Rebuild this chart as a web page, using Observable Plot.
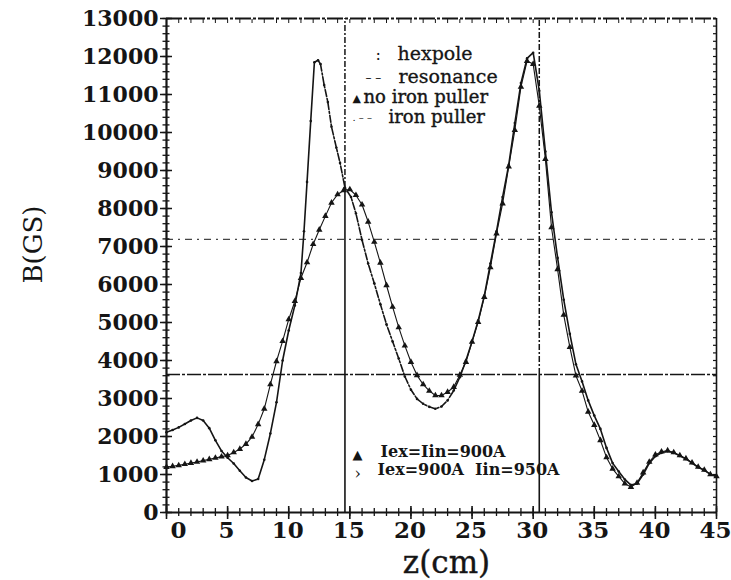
<!DOCTYPE html>
<html><head><meta charset="utf-8">
<script src="https://cdn.jsdelivr.net/npm/d3@7"></script>
<script src="https://cdn.jsdelivr.net/npm/@observablehq/plot@0.6"></script>
<style>body{margin:0;background:#fff}</style>
</head><body><div id="chart"></div>
<script>
// Series A: Iex=Iin=900A (triangles)
const zA = [0,0.5,1,1.5,2,2.5,3,3.5,4,4.5,5,5.5,6,6.5,7,7.5,8,8.5,9,9.5,10,10.5,11,11.5,12,12.5,13,13.5,14,14.5,15,15.5,16,16.5,17,17.5,18,18.5,19,19.5,20,20.5,21,21.5,22,22.5,23,23.5,24,24.5,25,25.5,26,26.5,27,27.5,28,28.5,29,29.5,30,30.5,31,31.5,32,32.5,33,33.5,34,34.5,35,35.5,36,36.5,37,37.5,38,38.5,39,39.5,40,40.5,41,41.5,42,42.5,43,43.5,44,44.5,45];
const bA = [1195,1215,1240,1270,1300,1330,1365,1400,1435,1470,1500,1580,1670,1800,1990,2320,2730,3370,3980,4510,5080,5560,6170,6580,7060,7440,7800,8150,8370,8480,8500,8350,8100,7650,7120,6570,5980,5410,4870,4390,3960,3610,3370,3200,3080,3080,3170,3300,3620,3960,4490,5010,5670,6450,7340,8130,9100,10060,11200,11880,11800,10700,9300,7500,6400,5200,4350,3600,3200,2650,2300,1900,1450,1150,950,760,670,780,1050,1330,1520,1600,1630,1580,1500,1420,1310,1200,1120,1000,950];
// Series B: Iex=900A Iin=950A (line)
const zB = [0,0.5,1,1.5,2,2.5,3,3.5,4,4.5,5,5.5,6,6.5,7,7.5,8,8.5,9,9.5,10,10.5,11,11.25,11.5,11.8,12.1,12.4,12.6,12.9,13.2,13.5,13.9,14.2,14.6,15.1,15.5,16,16.5,17,17.5,18,18.5,19,19.5,20,20.5,21,21.5,22,22.5,23,23.5,24,24.5,25,25.5,26,26.5,27,27.5,28,28.5,29,29.5,30,30.5,31,31.5,32,32.5,33,33.5,34,34.5,35,35.5,36,36.5,37,37.5,38,38.5,39,39.5,40,40.5,41,41.5,42,42.5,43,43.5,44,44.5,45];
const bB = [2110,2170,2240,2330,2420,2490,2420,2220,1900,1620,1440,1290,1100,920,830,880,1390,2080,2900,4000,4790,5450,6300,7400,8700,10300,11850,11900,11800,11250,10800,10150,9600,9200,8550,8300,7870,7170,6550,6030,5480,4950,4500,4050,3580,3230,2990,2860,2780,2730,2790,2950,3210,3560,4000,4500,5050,5700,6550,7400,8300,9150,10250,11300,11950,12100,11100,9500,7900,6700,5600,4700,3900,3450,2950,2550,2200,1700,1300,1080,870,720,760,1000,1300,1480,1570,1610,1570,1490,1410,1300,1190,1110,1010,940];
const hexpoleZ = [14.6, 30.5];
const hexpoleSolidTop = [8550, 3630];
const resonanceB = [3630, 7190];
const yMajorTicks = d3.range(0, 13001, 1000);
const yMinorTicks = d3.range(0, 13001, 200);
const xMajorTicks = d3.range(0, 46, 5);
const xMinorTicks = d3.range(0, 46, 1);
const xLabelTicks = d3.range(5, 46, 5);
const xFirstLabel = [0];
const xLabel = "z(cm)";
const yLabel = "B(GS)";
const legendTop = ["hexpole", "resonance", "no iron puller", "iron puller"];
const legendBottom = ["Iex=Iin=900A", "Iex=900A\u00a0\u00a0Iin=950A"];

const A = zA.map((z, i) => ({z, b: bA[i]}));
const B = zB.map((z, i) => ({z, b: bB[i]}));
const hexDashed = hexpoleZ.map((z, i) => ({z, b1: hexpoleSolidTop[i], b2: 13000}));
const hexSolid = hexpoleZ.map((z, i) => ({z, b1: 0, b2: hexpoleSolidTop[i]}));
const ink = "#151515";
const serif = "DejaVu Serif";

const txt = (s, o) => Plot.text([s], {frameAnchor: "top-left", textAnchor: "start", lineAnchor: "middle", fill: ink, fontFamily: serif, ...o});

const chart = Plot.plot({
  width: 731, height: 580,
  marginLeft: 166, marginRight: 15, marginTop: 18, marginBottom: 68,
  style: {background: "#fff", fontFamily: serif, color: ink},
  x: {domain: [0, 45]},
  y: {domain: [0, 13000]},
  marks: [
    // resonance lines
    Plot.ruleY([resonanceB[1]], {stroke: ink, strokeWidth: 1.2, strokeDasharray: "7,5,2,5", strokeOpacity: 0.8}),
    Plot.ruleY([resonanceB[0]], {stroke: ink, strokeWidth: 1.5, strokeDasharray: "14,2,3,2"}),
    // hexpole lines
    Plot.ruleX(hexDashed, {x: "z", y1: "b1", y2: "b2", stroke: ink, strokeWidth: 1.5, strokeDasharray: "6,2,2,2"}),
    Plot.ruleX(hexSolid, {x: "z", y1: "b1", y2: "b2", stroke: ink, strokeWidth: 1.6}),
    // frame
    Plot.ruleX([0], {stroke: ink, strokeWidth: 2.2}),
    Plot.ruleY([0], {stroke: ink, strokeWidth: 2.2}),
    Plot.ruleX([45], {stroke: ink, strokeWidth: 1.6}),
    Plot.ruleY([13000], {stroke: ink, strokeWidth: 1.8, strokeDasharray: "16,2,3,2"}),
    // ticks
    Plot.axisY(yMinorTicks, {anchor: "left", tickSize: 7, dx: 3.5, tickFormat: () => "", stroke: ink, strokeWidth: 1.3, label: null}),
    Plot.axisY(yMajorTicks, {anchor: "left", tickSize: 12, dx: 6, tickFormat: () => "", stroke: ink, strokeWidth: 1.5, label: null}),
    Plot.axisY(yMinorTicks, {anchor: "right", tickSize: 4, dx: -4, tickFormat: () => "", stroke: ink, strokeWidth: 1.2, label: null}),
    Plot.axisY(yMajorTicks, {anchor: "left", tickSize: 0, tickPadding: 8, tickFormat: d => String(d), fontSize: 22, fontWeight: "bold", fill: ink, label: null}),
    Plot.axisX(xMinorTicks, {anchor: "bottom", tickSize: 8, dy: -4, tickFormat: () => "", stroke: ink, strokeWidth: 1.3, label: null}),
    Plot.axisX(xMajorTicks, {anchor: "bottom", tickSize: 13, dy: -6, tickFormat: () => "", stroke: ink, strokeWidth: 1.6, label: null}),
    Plot.axisX(xMinorTicks, {anchor: "top", tickSize: 4, dy: 4, tickFormat: () => "", stroke: ink, strokeWidth: 1, label: null}),
    Plot.axisX(xLabelTicks, {anchor: "bottom", tickSize: 0, tickPadding: 9, dx: -1, tickFormat: d => String(d), fontSize: 23, fontWeight: "bold", fill: ink, label: null}),
    Plot.axisX(xFirstLabel, {anchor: "bottom", tickSize: 0, tickPadding: 9, dx: 12, tickFormat: d => String(d), fontSize: 23, fontWeight: "bold", fill: ink, label: null}),
    // series A
    Plot.line(A, {x: "z", y: "b", stroke: ink, strokeWidth: 1.1, curve: "linear"}),
    Plot.dot(A, {x: "z", y: "b", symbol: "triangle", r: 2.4, fill: ink, stroke: "none"}),
    // series B
    Plot.line(B.filter(d => d.z <= 12.6), {x: "z", y: "b", stroke: ink, strokeWidth: 1.6, curve: "linear"}),
    Plot.line(B.filter(d => d.z >= 12.6 && d.z <= 23.5), {x: "z", y: "b", stroke: ink, strokeWidth: 1.6, strokeDasharray: "7,2,2,2", curve: "linear"}),
    Plot.line(B.filter(d => d.z >= 23.5), {x: "z", y: "b", stroke: ink, strokeWidth: 1.6, curve: "linear"}),
    Plot.dot(B, {x: "z", y: "b", r: 1.3, fill: ink, stroke: "none"}),
    // axis titles
    Plot.text([xLabel], {frameAnchor: "bottom", dx: 5, dy: 51, fontSize: 31, fill: ink, fontFamily: serif, lineAnchor: "middle", stroke: ink, strokeWidth: 0.4}),
    Plot.text([yLabel], {frameAnchor: "left", dx: -133, dy: 18, rotate: -90, fontSize: 26, fill: ink, fontFamily: serif, lineAnchor: "middle"}),
    // top legend
    txt(":", {dx: 209, dy: 36, fontSize: 16}),
    txt(legendTop[0], {dx: 231, dy: 35, fontSize: 19, stroke: ink, strokeWidth: 0.3}),
    txt("\u2013 \u2013", {dx: 199, dy: 60, fontSize: 12}),
    txt(legendTop[1], {dx: 232, dy: 58, fontSize: 19, stroke: ink, strokeWidth: 0.3}),
    txt("\u25B2", {dx: 186, dy: 80, fontSize: 11, fontFamily: "DejaVu Sans"}),
    txt(legendTop[2], {dx: 197, dy: 79, fontSize: 18, stroke: ink, strokeWidth: 0.4, style: "word-spacing:5px"}),
    txt(". \u2013 \u2013", {dx: 186, dy: 99, fontSize: 10}),
    txt(legendTop[3], {dx: 222, dy: 99, fontSize: 18, stroke: ink, strokeWidth: 0.4, style: "word-spacing:5px"}),
    // bottom legend
    txt("\u25B2", {dx: 186, dy: 436, fontSize: 13, fontFamily: "DejaVu Sans"}),
    txt(legendBottom[0], {dx: 214, dy: 433, fontSize: 16, fontWeight: "bold"}),
    txt("\u203A", {dx: 188, dy: 455, fontSize: 16}),
    txt(legendBottom[1], {dx: 211, dy: 451, fontSize: 16, fontWeight: "bold"})
  ]
});
document.getElementById("chart").appendChild(chart);
</script>
</body></html>
